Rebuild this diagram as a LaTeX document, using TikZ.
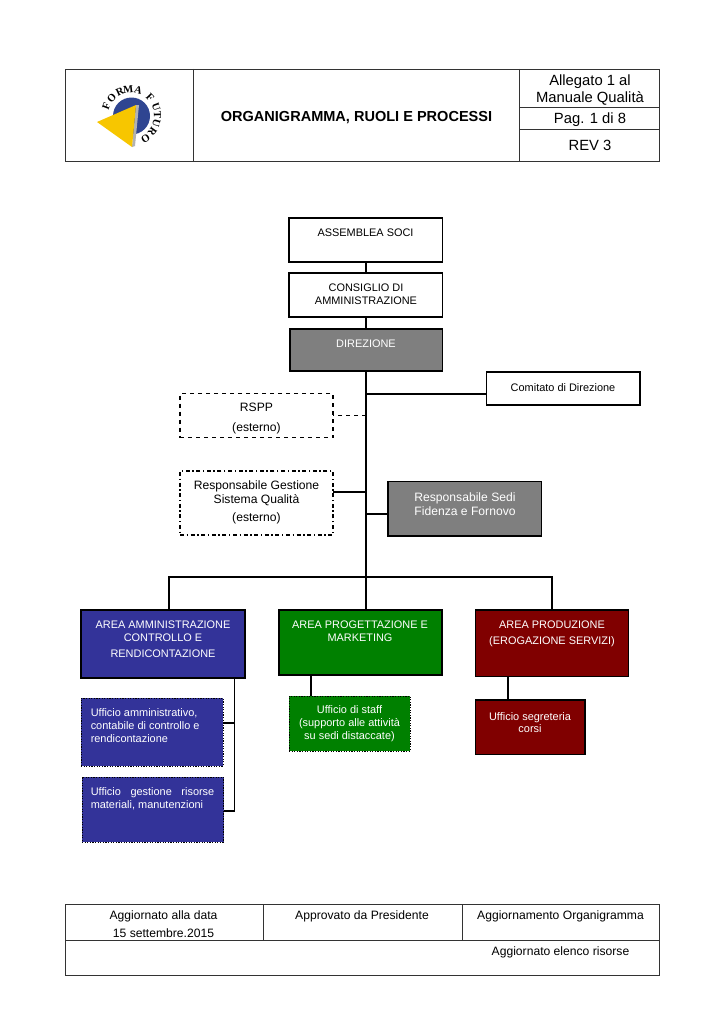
\documentclass[tikz,border=0pt]{standalone}
\usepackage{fontspec}
\setmainfont{Liberation Sans}
\newfontfamily\logofont{Liberation Serif}
\definecolor{gbox}{HTML}{7F7F7F}
\definecolor{bbox}{HTML}{333399}
\definecolor{grbox}{HTML}{008000}
\definecolor{rbox}{HTML}{800000}
\definecolor{rule}{HTML}{333333}
\definecolor{logoy}{HTML}{F7C600}
\definecolor{logob}{HTML}{2F4591}
\newcommand{\fsA}{\fontsize{8.2pt}{9.6pt}\selectfont}
\newcommand{\fsB}{\fontsize{9.1pt}{10.6pt}\selectfont}
\newcommand{\fsC}{\fontsize{11.1pt}{12.8pt}\selectfont}
\newcommand{\fsT}{\fontsize{10.9pt}{12.8pt}\selectfont}
\tikzset{
  x=0.75pt,y=-0.75pt,
  cell/.style={draw=rule,line width=0.6pt},
  box/.style={draw=black,line width=0.95pt,anchor=north west,inner sep=0pt,outer sep=0pt},
  link/.style={draw=black,line width=0.85pt},
  lbl/.style={align=center,inner sep=0pt,anchor=center},
  wlbl/.style={lbl,text=white},
  logoletter/.style={inner sep=0pt,font=\logofont\bfseries\fontsize{8pt}{8pt}\selectfont},
}
\newcommand{\bx}[6]{\node[box,#6,minimum width=#4*0.75pt,minimum height=#5*0.75pt] (#1) at (#2,#3) {};}
\begin{document}
\begin{tikzpicture}
\useasboundingbox (0,0) rectangle (724,1024);
\fill[white] (0,0) rectangle (724,1024);
% header
\draw[cell] (65,69) rectangle (659.5,161);
\draw[cell] (193,69) -- (193,161);
\draw[cell] (519.5,69) -- (519.5,161);
\draw[cell] (519.5,107) -- (659.5,107);
\draw[cell] (519.5,129.5) -- (659.5,129.5);
\node[lbl,font=\fsT\bfseries] (title) at (356.5,118) {ORGANIGRAMMA, RUOLI E PROCESSI};
\node[lbl,font=\fsC,align=center] (all) at (590,90) {Allegato 1 al\\Manuale Qualità};
\node[lbl,font=\fsC] (pag) at (590,120) {Pag. 1 di 8};
\node[lbl,font=\fsC] (rev) at (590,145) {REV 3};
% logo
\fill[logob] (131.5,116) circle (18.5);
\fill[gray!60] (136,105) -- (139,105) -- (135,146) -- (132,147) -- cycle;
\fill[logoy] (97,122) -- (136,105) -- (132,147) -- cycle;
\foreach \c/\a [count=\i] in {F/159,O/137,R/115,M/96,A/74,F/44,U/19,T/2,U/-16,R/-36,O/-57}{
  \node[logoletter,rotate=\a-90] (logo\i) at ({131+26.5*cos(\a)},{116-26.5*sin(\a)}) {\c};
}
% top chain
\bx{soci}{289}{218}{153.5}{44}{fill=white}
\bx{cda}{289}{273}{153.5}{44}{fill=white}
\bx{dir}{290}{329}{152.5}{42}{fill=gbox}
\bx{com}{486.5}{372}{153.5}{33}{fill=white}
\node[lbl,font=\fsA] at (365.5,232.5) (tsoci) {ASSEMBLEA SOCI};
\node[lbl,font=\fsA] at (366,294) (tcda) {CONSIGLIO DI\\AMMINISTRAZIONE};
\node[wlbl,font=\fsA] at (366,343.5) (tdir) {DIREZIONE};
\node[lbl,font=\fsA] at (563,387.5) (tcom) {Comitato di Direzione};
% staff
\node[box,dashed,line width=1.05pt,minimum width=153*0.75pt,minimum height=44*0.75pt] (rspp) at (180,393.5) {};
\node[box,dash dot,line width=0.8pt,minimum width=153*0.75pt,minimum height=64*0.75pt] (rgq) at (180,471) {};
\bx{rsedi}{388}{481.5}{153.5}{54.5}{fill=gbox}
\node[lbl,font=\fsB] at (256.5,418.5) (trspp) {RSPP\\[4pt](esterno)};
\node[lbl,font=\fsB] at (256.5,502.5) (trgq) {Responsabile Gestione\\Sistema Qualità\\[2.5pt](esterno)};
\node[wlbl,font=\fsB] at (465,504) (trs) {Responsabile Sedi\\Fidenza e Fornovo};
% areas
\bx{aa}{81}{610}{164}{68}{fill=bbox}
\bx{ap}{279}{610}{163}{65}{fill=grbox}
\bx{ae}{475.5}{610}{153}{66.5}{fill=rbox}
\node[wlbl,font=\fsA] at (163,639) (taa) {AREA AMMINISTRAZIONE\\CONTROLLO E\\[2.5pt]RENDICONTAZIONE};
\node[wlbl,font=\fsA] at (360,631) (tap) {AREA PROGETTAZIONE E\\MARKETING};
\node[wlbl,font=\fsA] at (552,633.5) (tae) {AREA PRODUZIONE\\[2.5pt](EROGAZIONE SERVIZI)};
% offices
\tikzset{dotbox/.style={box,densely dotted,line width=0.7pt}}
\node[dotbox,fill=bbox,minimum width=142*0.75pt,minimum height=68*0.75pt] (u1) at (81,698) {};
\node[dotbox,fill=bbox,minimum width=141.5*0.75pt,minimum height=65*0.75pt] (u2) at (82,777) {};
\node[dotbox,fill=grbox,minimum width=121*0.75pt,minimum height=55*0.75pt] (u3) at (289,696) {};
\bx{u4}{475.5}{700}{109.5}{54.5}{fill=rbox}
\node[wlbl,font=\fsA,align=left,anchor=west] at (90.5,725.5) (tu1) {Ufficio amministrativo,\\contabile di controllo e\\rendicontazione};
\node[wlbl,font=\fsA,anchor=west,align=left] at (90.5,799) (tu2) {Ufficio\hspace{7.2pt}gestione\hspace{7.2pt}risorse\\materiali, manutenzioni};
\node[wlbl,font=\fsA] at (349.5,723.5) (tu3) {Ufficio di staff\\(supporto alle attività\\su sedi distaccate)};
\node[wlbl,font=\fsA] at (530,722.5) (tu4) {Ufficio segreteria\\corsi};
% connectors
\coordinate (trunkb) at (366,577);
\coordinate (t1) at (366,394);
\coordinate (t2) at (366,415.5);
\coordinate (t3) at (366,492);
\coordinate (t4) at (366,514);
\coordinate (hl) at (169,577);
\coordinate (hr) at (552,577);
\draw[link] (soci.south -| trunkb) -- (cda.north -| trunkb);
\draw[link] (cda.south -| trunkb) -- (dir.north -| trunkb);
\draw[link] (dir.south -| trunkb) -- (ap.north -| trunkb);
\draw[link] (t1) -- (com.west |- t1);
\draw[link,dashed,line width=1pt] (t2) -- (rspp.east |- t2);
\draw[link] (t3) -- (rgq.east |- t3);
\draw[link] (t4) -- (rsedi.west |- t4);
\draw[link] (aa.north -| hl) -- (hl) -- (hr) -- (ae.north -| hr);
\coordinate (u3top) at (311,675);
\coordinate (u4top) at (508,676.5);
\coordinate (aab) at (234.5,678);
\coordinate (u2c) at (234.5,811);
\coordinate (u1c) at (234.5,723);
\draw[link] (u3top) -- (u3.north -| u3top);
\draw[link] (u4top) -- (u4.north -| u4top);
\draw[link] (aab) -- (u2c) -- (u2.east |- u2c);
\draw[link] (u1.east |- u1c) -- (u1c);
% footer
\draw[cell] (65,904) rectangle (659.5,975);
\draw[cell] (65,940) -- (659.5,940);
\draw[cell] (263,904) -- (263,940);
\draw[cell] (462,904) -- (462,940);
\node[lbl,font=\fsB] at (163.5,924.5) (f1) {Aggiornato alla data\\[3pt]15 settembre.2015};
\node[lbl,font=\fsB] at (362,916) (f2) {Approvato da Presidente};
\node[lbl,font=\fsB] at (560.5,916) (f3) {Aggiornamento Organigramma};
\node[lbl,font=\fsB] at (560.5,952) (f4) {Aggiornato elenco risorse};
\end{tikzpicture}
\end{document}
